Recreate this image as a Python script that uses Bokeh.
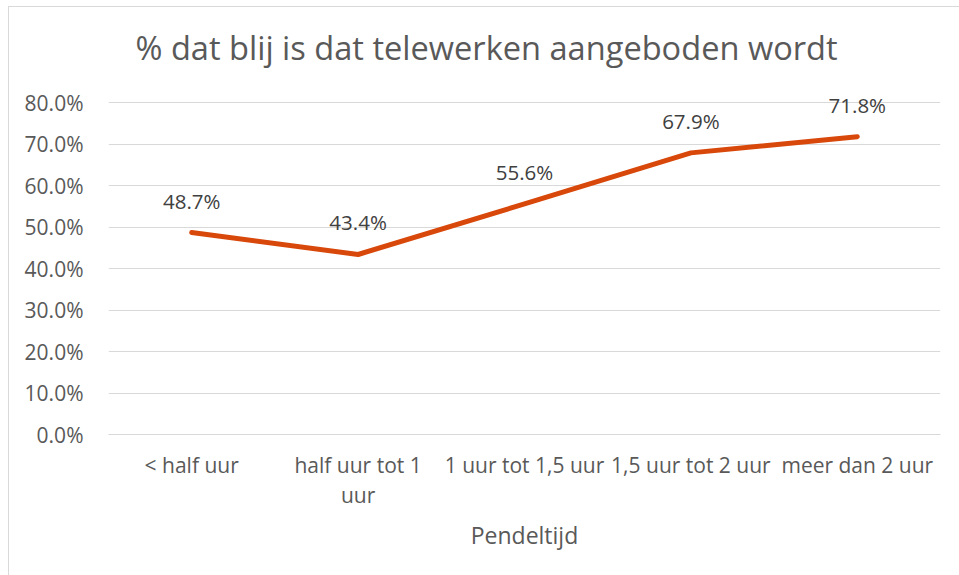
from bokeh.plotting import figure
from bokeh.models import ColumnDataSource, FixedTicker, CustomJSTickFormatter, LabelSet, Range1d
from bokeh.embed import file_html
from bokeh.resources import INLINE
from bokeh.core.properties import value

categories = ["< half uur", "half uur tot 1\nuur", "1 uur tot 1,5 uur", "1,5 uur tot 2 uur", "meer dan 2 uur"]
values = [48.7, 43.4, 55.6, 67.9, 71.8]
labels = ["48.7%", "43.4%", "55.6%", "67.9%", "71.8%"]
y_ticks = [0, 10, 20, 30, 40, 50, 60, 70, 80]

FONT = "Open Sans"
TXT = "#595959"

xs = [i + 0.5 for i in range(len(categories))]

p = figure(x_range=Range1d(0, len(categories)), y_range=Range1d(0, 88), width=951, height=569,
           output_backend="svg", toolbar_location=None,
           title="% dat blij is dat telewerken aangeboden wordt",
           min_border_left=99, min_border_right=20, min_border_top=62, min_border_bottom=142)
p.styles = {"border-left": "1px solid #d9d9d9", "border-top": "1px solid #d9d9d9",
            "margin-left": "8px", "margin-top": "6px"}
p.outline_line_color = None
p.background_fill_color = "white"

p.title.align = "left"
p.title.offset = 27
p.title.text_font = FONT
p.title.text_font_size = "32.6px"
p.title.text_font_style = "normal"
p.title.text_color = TXT
p.title.standoff = 0

src = ColumnDataSource(dict(x=xs, y=values, lab=labels))
p.line("x", "y", source=src, line_color="#D9480B", line_width=5, line_cap="round", line_join="round")
p.add_layout(LabelSet(x="x", y="y", text="lab", source=src, y_offset=32, text_align="center",
                      text_baseline="middle", text_font=value(FONT), text_font_size="20.5px",
                      text_color="#404040"))

p.yaxis.ticker = FixedTicker(ticks=y_ticks)
p.yaxis.formatter = CustomJSTickFormatter(code="return tick.toFixed(1) + '%';")
p.yaxis.axis_line_color = None
p.yaxis.major_tick_line_color = None
p.yaxis.minor_tick_line_color = None
p.yaxis.major_label_standoff = 19
p.yaxis.major_label_text_font = FONT
p.yaxis.major_label_text_font_size = "21px"
p.yaxis.major_label_text_color = TXT

p.xaxis.ticker = FixedTicker(ticks=xs)
p.xaxis.major_label_overrides = {x: c for x, c in zip(xs, categories)}
p.xaxis.axis_line_color = "#d9d9d9"
p.xaxis.major_tick_line_color = None
p.xaxis.minor_tick_line_color = None
p.xaxis.major_label_standoff = 10
p.xaxis.major_label_text_font = FONT
p.xaxis.major_label_text_font_size = "21px"
p.xaxis.major_label_text_line_height = 1.1
p.xaxis.major_label_text_color = TXT
p.xaxis.axis_label = "Pendeltijd"
p.xaxis.axis_label_text_font = FONT
p.xaxis.axis_label_text_font_size = "23px"
p.xaxis.axis_label_text_font_style = "normal"
p.xaxis.axis_label_text_color = TXT
p.xaxis.axis_label_standoff = 7

p.xgrid.grid_line_color = None
p.ygrid.grid_line_color = "#d9d9d9"
p.ygrid.grid_line_width = 1

open("out.html", "w").write(file_html(p, INLINE))
